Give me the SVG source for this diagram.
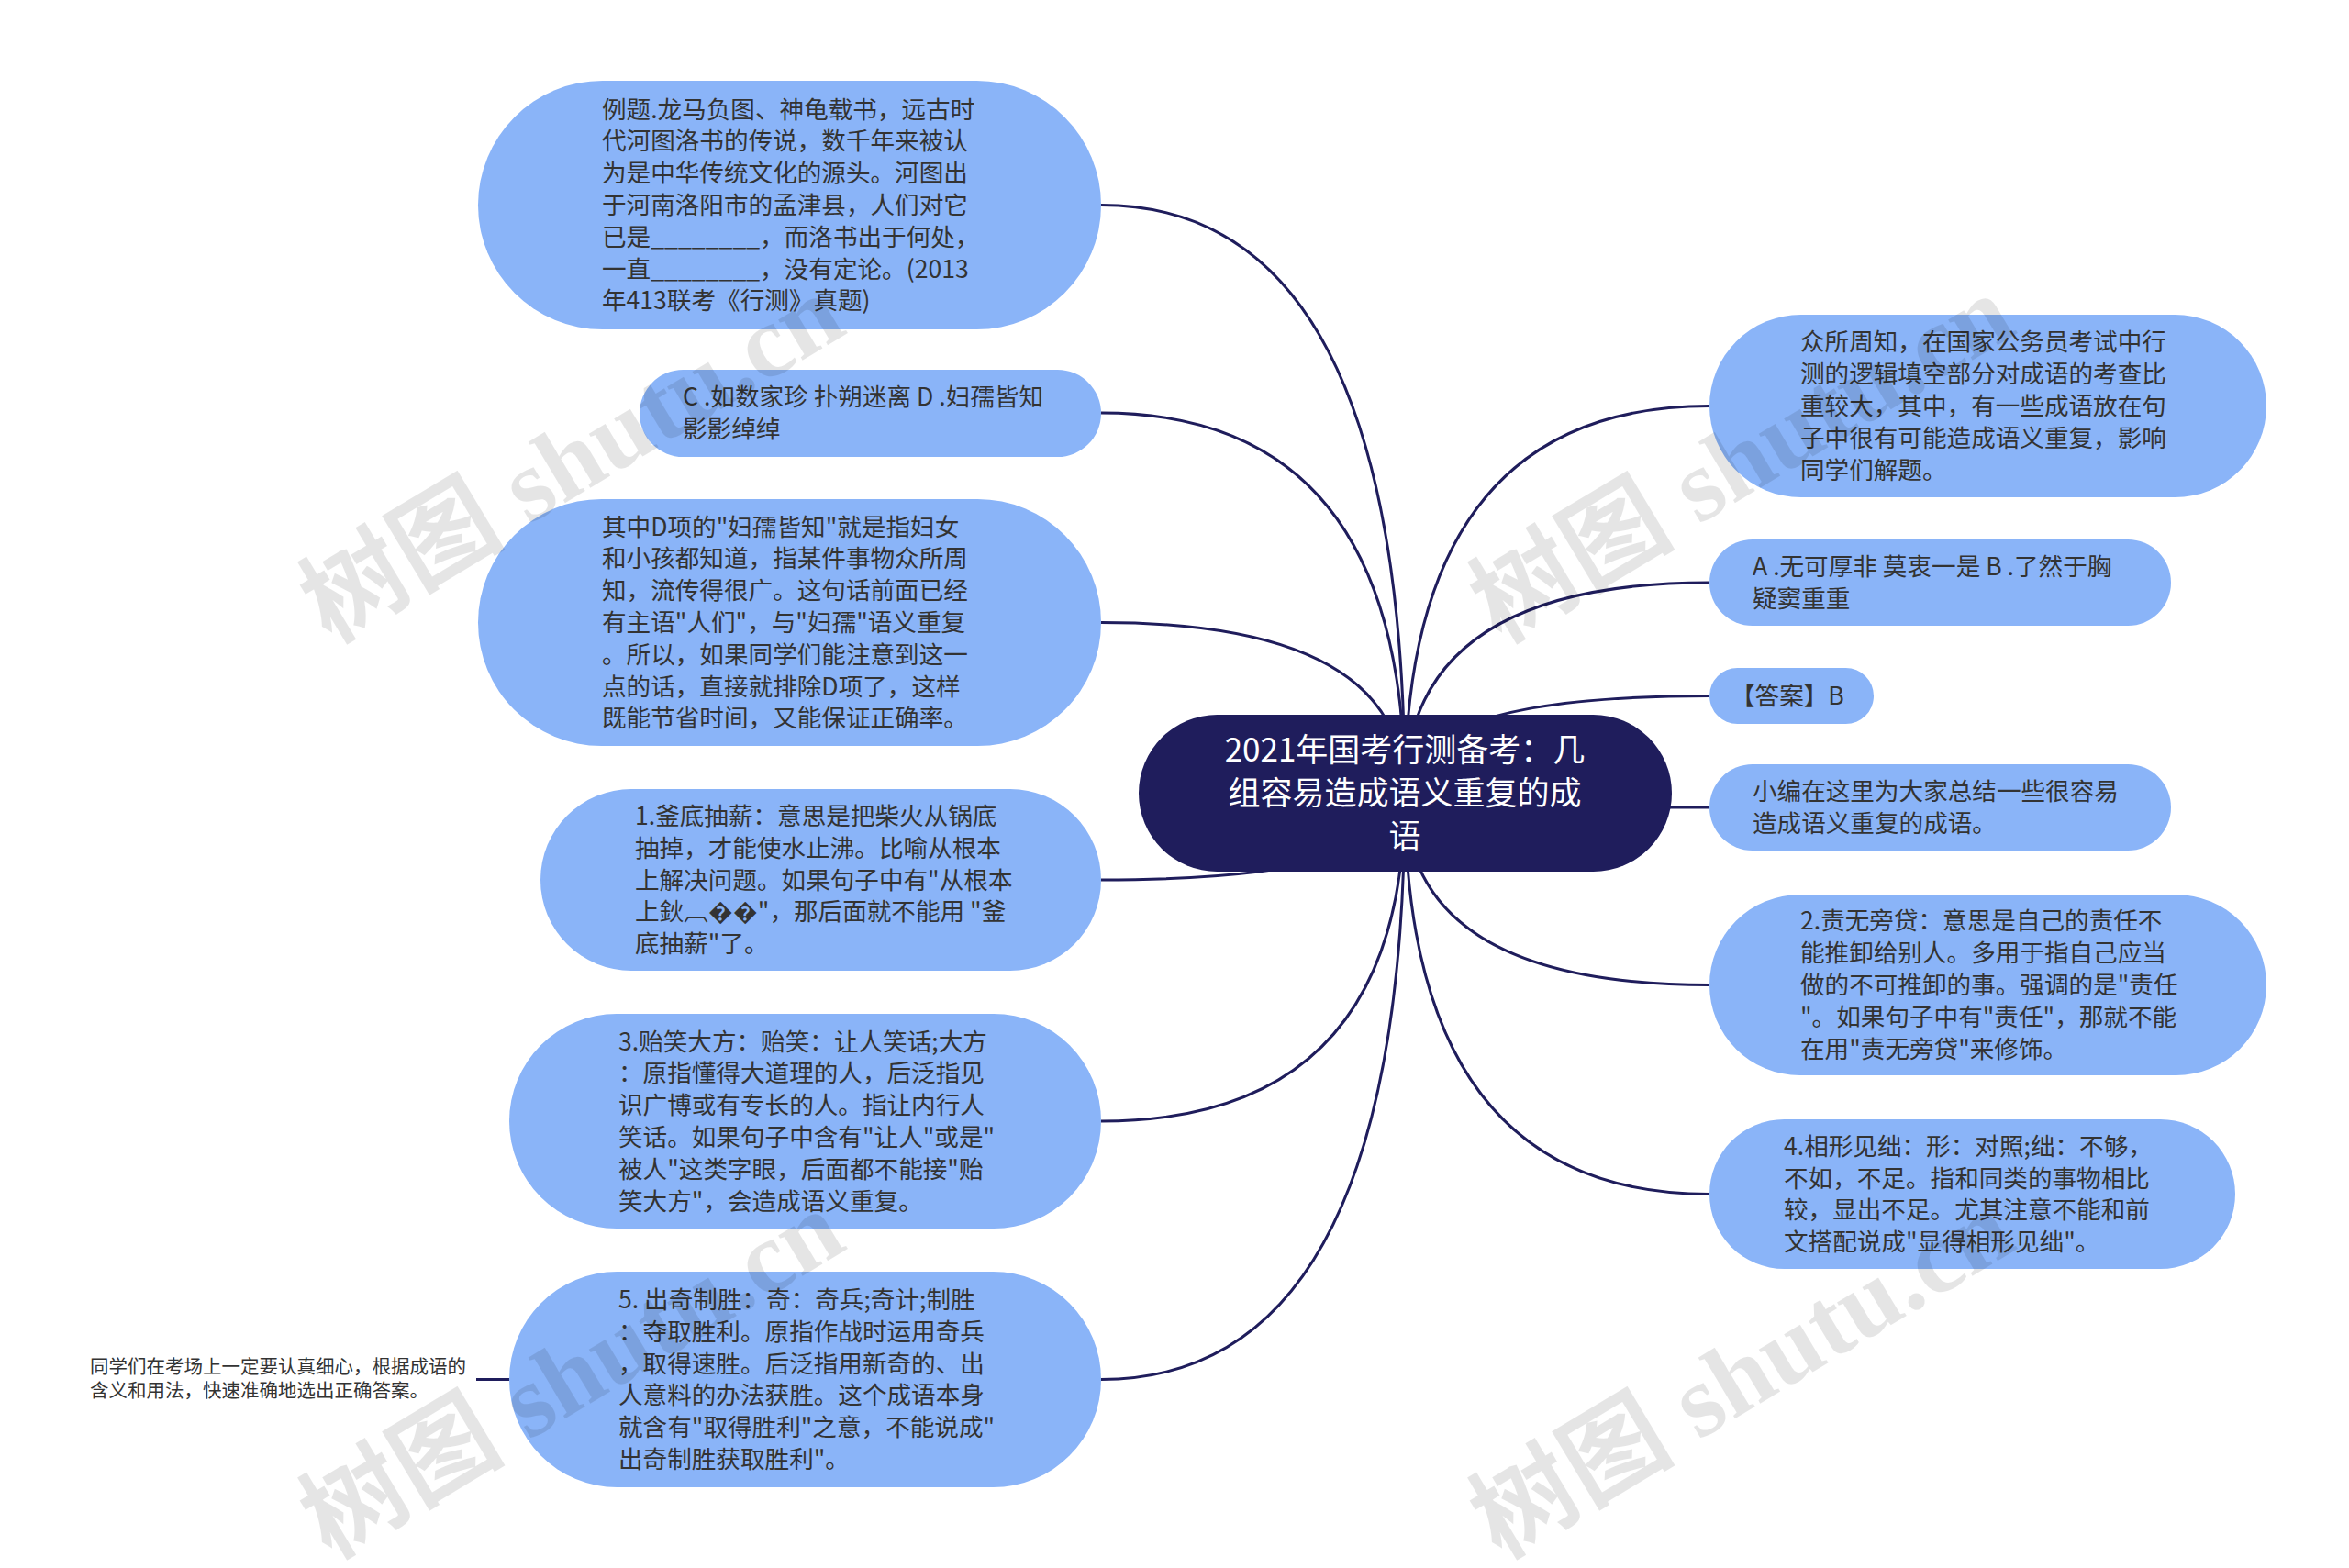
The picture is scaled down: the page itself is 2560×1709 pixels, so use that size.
<svg xmlns="http://www.w3.org/2000/svg" width="2560" height="1709" viewBox="0 0 2560 1709">
<style>
.bg{fill:#ffffff}
.node{fill:#8ab4f8}
.root{fill:#1f1d5c}
.t{font-family:'Noto Sans CJK SC','Liberation Sans',sans-serif;font-size:26.6px;fill:#333333}
.rt{font-family:'Noto Sans CJK SC','Liberation Sans',sans-serif;font-size:35px;fill:#ffffff;text-anchor:middle}
.st{font-family:'Noto Sans CJK SC','Liberation Sans',sans-serif;font-size:20.5px;fill:#333333}
.conn path{fill:none;stroke:#1f1d5c;stroke-width:3}
.wm{font-family:'Liberation Serif','Noto Sans CJK SC',serif;font-size:112px;font-weight:bold;fill:#000000;fill-opacity:0.1}
</style>
<rect class="bg" x="0" y="0" width="2560" height="1709"/>
<g id="connectors" class="conn">
<path d="M1531 865 Q1531 223.5 1200 223.5"/>
<path d="M1531 865 Q1531 450 1200 450"/>
<path d="M1531 865 Q1531 678.5 1200 678.5"/>
<path d="M1531 865 Q1531 959 1200 959"/>
<path d="M1531 865 Q1531 1222 1200 1222"/>
<path d="M1531 865 Q1531 1503.5 1200 1503.5"/>
<path d="M555 1503.5 L519 1503.5"/>
<path d="M1531 865 Q1531 442.5 1863 442.5"/>
<path d="M1531 865 Q1531 635 1863 635"/>
<path d="M1531 865 Q1531 758.5 1863 758.5"/>
<path d="M1531 865 Q1531 880 1863 880"/>
<path d="M1531 865 Q1531 1073.5 1863 1073.5"/>
<path d="M1531 865 Q1531 1301.5 1863 1301.5"/>
</g>
<g id="root">
<rect class="root" x="1241" y="779" width="581" height="171" rx="85.5"/>
<text class="rt"><tspan x="1531" y="830">2021年国考行测备考：几</tspan><tspan x="1531" y="877">组容易造成语义重复的成</tspan><tspan x="1531" y="924">语</tspan></text>
</g>
<g id="L1">
<rect class="node" x="521" y="88" width="679" height="271" rx="135.5"/>
<text class="t"><tspan x="656" y="128.6">例题.龙马负图、神龟载书，远古时</tspan><tspan x="656" y="163.4">代河图洛书的传说，数千年来被认</tspan><tspan x="656" y="198.2">为是中华传统文化的源头。河图出</tspan><tspan x="656" y="233">于河南洛阳市的孟津县，人们对它</tspan><tspan x="656" y="267.8">已是________，而洛书出于何处，</tspan><tspan x="656" y="302.6">一直________，没有定论。(2013</tspan><tspan x="656" y="337.4">年413联考《行测》真题)</tspan></text>
</g>
<g id="L2">
<rect class="node" x="697" y="403" width="503" height="95" rx="47.5"/>
<text class="t"><tspan x="744" y="442.1">C .如数家珍 扑朔迷离 D .妇孺皆知</tspan><tspan x="744" y="476.9">影影绰绰</tspan></text>
</g>
<g id="L3">
<rect class="node" x="521" y="544" width="679" height="269" rx="134.5"/>
<text class="t"><tspan x="656" y="583.6">其中D项的"妇孺皆知"就是指妇女</tspan><tspan x="656" y="618.4">和小孩都知道，指某件事物众所周</tspan><tspan x="656" y="653.2">知，流传得很广。这句话前面已经</tspan><tspan x="656" y="688">有主语"人们"，与"妇孺"语义重复</tspan><tspan x="656" y="722.8">。所以，如果同学们能注意到这一</tspan><tspan x="656" y="757.6">点的话，直接就排除D项了，这样</tspan><tspan x="656" y="792.4">既能节省时间，又能保证正确率。</tspan></text>
</g>
<g id="L4">
<rect class="node" x="589" y="860" width="611" height="198" rx="99"/>
<text class="t"><tspan x="692" y="898.9">1.釜底抽薪：意思是把柴火从锅底</tspan><tspan x="692" y="933.7">抽掉，才能使水止沸。比喻从根本</tspan><tspan x="692" y="968.5">上解决问题。如果句子中有"从根本</tspan><tspan x="692" y="1003.3">上鈥︹��"，那后面就不能用 "釜</tspan><tspan x="692" y="1038.1">底抽薪"了。</tspan></text>
</g>
<g id="L5">
<rect class="node" x="555" y="1105" width="645" height="234" rx="117"/>
<text class="t"><tspan x="674" y="1144.5">3.贻笑大方：贻笑：让人笑话;大方</tspan><tspan x="674" y="1179.3">：原指懂得大道理的人，后泛指见</tspan><tspan x="674" y="1214.1">识广博或有专长的人。指让内行人</tspan><tspan x="674" y="1248.9">笑话。如果句子中含有"让人"或是"</tspan><tspan x="674" y="1283.7">被人"这类字眼，后面都不能接"贻</tspan><tspan x="674" y="1318.5">笑大方"，会造成语义重复。</tspan></text>
</g>
<g id="L6">
<rect class="node" x="555" y="1386" width="645" height="235" rx="117.5"/>
<text class="t"><tspan x="674" y="1426">5. 出奇制胜：奇：奇兵;奇计;制胜</tspan><tspan x="674" y="1460.8">：夺取胜利。原指作战时运用奇兵</tspan><tspan x="674" y="1495.6">，取得速胜。后泛指用新奇的、出</tspan><tspan x="674" y="1530.4">人意料的办法获胜。这个成语本身</tspan><tspan x="674" y="1565.2">就含有"取得胜利"之意，不能说成"</tspan><tspan x="674" y="1600">出奇制胜获取胜利"。</tspan></text>
</g>
<g id="L7">
<text class="st"><tspan x="98" y="1496.5">同学们在考场上一定要认真细心，根据成语的</tspan><tspan x="98" y="1522.5">含义和用法，快速准确地选出正确答案。</tspan></text>
</g>
<g id="R1">
<rect class="node" x="1863" y="343" width="607" height="199" rx="99.5"/>
<text class="t"><tspan x="1962" y="382.4">众所周知，在国家公务员考试中行</tspan><tspan x="1962" y="417.2">测的逻辑填空部分对成语的考查比</tspan><tspan x="1962" y="452">重较大，其中，有一些成语放在句</tspan><tspan x="1962" y="486.8">子中很有可能造成语义重复，影响</tspan><tspan x="1962" y="521.6">同学们解题。</tspan></text>
</g>
<g id="R2">
<rect class="node" x="1863" y="588" width="503" height="94" rx="47"/>
<text class="t"><tspan x="1910" y="627.1">A .无可厚非 莫衷一是 B .了然于胸</tspan><tspan x="1910" y="661.9">疑窦重重</tspan></text>
</g>
<g id="R3">
<rect class="node" x="1863" y="728" width="179" height="61" rx="30.5"/>
<text class="t"><tspan x="1886" y="768">【答案】B</tspan></text>
</g>
<g id="R4">
<rect class="node" x="1863" y="833" width="503" height="94" rx="47"/>
<text class="t"><tspan x="1910" y="872.1">小编在这里为大家总结一些很容易</tspan><tspan x="1910" y="906.9">造成语义重复的成语。</tspan></text>
</g>
<g id="R5">
<rect class="node" x="1863" y="975" width="607" height="197" rx="98.5"/>
<text class="t"><tspan x="1962" y="1013.4">2.责无旁贷：意思是自己的责任不</tspan><tspan x="1962" y="1048.2">能推卸给别人。多用于指自己应当</tspan><tspan x="1962" y="1083">做的不可推卸的事。强调的是"责任</tspan><tspan x="1962" y="1117.8">"。如果句子中有"责任"，那就不能</tspan><tspan x="1962" y="1152.6">在用"责无旁贷"来修饰。</tspan></text>
</g>
<g id="R6">
<rect class="node" x="1863" y="1220" width="573" height="163" rx="81.5"/>
<text class="t"><tspan x="1944" y="1258.8">4.相形见绌：形：对照;绌：不够，</tspan><tspan x="1944" y="1293.6">不如，不足。指和同类的事物相比</tspan><tspan x="1944" y="1328.4">较，显出不足。尤其注意不能和前</tspan><tspan x="1944" y="1363.2">文搭配说成"显得相形见绌"。</tspan></text>
</g>
<g id="watermarks">
<text class="wm" transform="translate(360 702) rotate(-31)">树图 shutu.cn</text>
<text class="wm" transform="translate(1635 702) rotate(-31)">树图 shutu.cn</text>
<text class="wm" transform="translate(360 1700) rotate(-31)">树图 shutu.cn</text>
<text class="wm" transform="translate(1635 1700) rotate(-31)">树图 shutu.cn</text>
</g>
</svg>
